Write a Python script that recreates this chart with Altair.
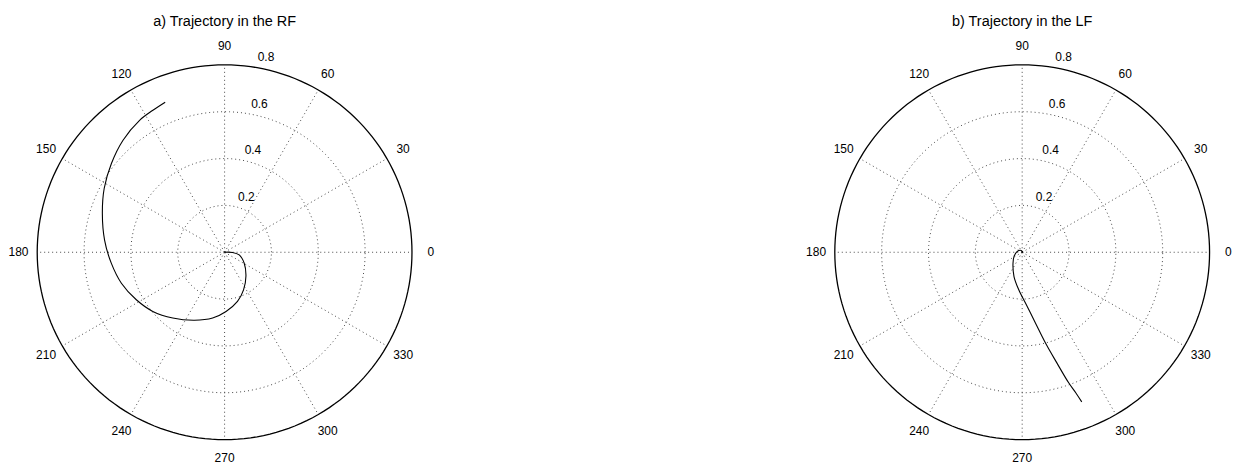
import altair as alt
import numpy as np
import pandas as pd

# ---------------- data ----------------
TITLES = ["a) Trajectory in the RF", "b) Trajectory in the LF"]

RF_THETA = [0, 358.6, 349.6, 330.8, 312.1, 296.7, 284.7, 271.4, 259.7, 246.1,
            231.8, 219.5, 208.3, 196.7, 185.5, 174.2, 162.4, 152.0, 141.9,
            132.2, 122.8, 116.8, 111.6]
RF_R = [0.0, 0.034, 0.0635, 0.096, 0.136, 0.180, 0.217, 0.253, 0.2855, 0.3176,
        0.3576, 0.397, 0.428, 0.460, 0.486, 0.515, 0.5475, 0.582, 0.614,
        0.6455, 0.670, 0.679, 0.689]

LF_THETA = [330, 119, 171, 207, 230, 251.4, 264.8, 275.3, 280.6, 284.4,
            287.4, 289.6, 290.9, 291.7]
LF_R = [0.004, 0.0088, 0.0215, 0.039, 0.061, 0.1096, 0.161, 0.2325, 0.307,
        0.400, 0.495, 0.5917, 0.643, 0.6876]

ANGLE_TICKS = [0, 30, 60, 90, 120, 150, 180, 210, 240, 270, 300, 330]
RADIUS_TICKS = [0.2, 0.4, 0.6, 0.8]
RMAX = 0.8

# ---------------- layout ----------------
PX_PER_UNIT = 235.0
W, H = 423, 448
CX, CY = 217.3, 244.3          # centre of the polar axes inside each panel (px)
SPACING = 800.2 - W
XDOM = [-CX / PX_PER_UNIT, (W - CX) / PX_PER_UNIT]
YDOM = [-(H - CY) / PX_PER_UNIT, CY / PX_PER_UNIT]
FONT = "Liberation Sans"


def pol(theta_deg, r):
    t = np.deg2rad(np.asarray(theta_deg, dtype=float))
    r = np.asarray(r, dtype=float)
    return r * np.cos(t), r * np.sin(t)


xs = alt.Scale(domain=XDOM, nice=False, zero=False)
ys = alt.Scale(domain=YDOM, nice=False, zero=False)


def enc_xy():
    return dict(x=alt.X("x:Q", scale=xs, axis=None),
                y=alt.Y("y:Q", scale=ys, axis=None))


def panel(title, theta, r):
    # grid rings
    rows = []
    for ring in RADIUS_TICKS:
        for k, a in enumerate(np.arange(0, 361, 2)):
            x, y = pol(a, ring)
            rows.append({"ring": ring, "k": k, "x": float(x), "y": float(y)})
    rings = pd.DataFrame(rows)

    dotted = alt.Chart(rings[rings.ring < RMAX]).mark_line(
        color="#333", strokeWidth=0.9, strokeDash=[1, 3]
    ).encode(**enc_xy(), detail="ring:N", order="k:Q")

    outer = alt.Chart(rings[rings.ring == RMAX]).mark_line(
        color="black", strokeWidth=1.3
    ).encode(**enc_xy(), detail="ring:N", order="k:Q")

    # spokes
    sx, sy = pol(ANGLE_TICKS, RMAX)
    spokes_df = pd.DataFrame({"x": 0.0, "y": 0.0, "x2": sx, "y2": sy})
    spokes = alt.Chart(spokes_df).mark_rule(
        color="#333", strokeWidth=0.9, strokeDash=[1, 3]
    ).encode(**enc_xy(), x2="x2:Q", y2="y2:Q")

    # angle labels
    lx, ly = pol(ANGLE_TICKS, 1.1 * RMAX)
    alab_df = pd.DataFrame({"x": lx, "y": ly, "t": [str(a) for a in ANGLE_TICKS]})
    alab = alt.Chart(alab_df).mark_text(
        font=FONT, fontSize=12, color="black", align="center", baseline="middle"
    ).encode(**enc_xy(), text="t:N")

    # radius labels
    rr = [v + 0.01 for v in RADIUS_TICKS]
    rx, ry = pol([82] * len(rr), rr)
    rlab_df = pd.DataFrame({"x": rx, "y": ry, "t": [f"{v:.1f}" for v in RADIUS_TICKS]})
    rlab = alt.Chart(rlab_df).mark_text(
        font=FONT, fontSize=12, color="black", align="left", baseline="bottom", dx=6.7
    ).encode(**enc_xy(), text="t:N")

    # trajectory
    tx, ty = pol(theta, r)
    traj_df = pd.DataFrame({"i": range(len(tx)), "x": tx, "y": ty})
    traj = alt.Chart(traj_df).mark_line(
        color="black", strokeWidth=1.1, interpolate="catmull-rom"
    ).encode(**enc_xy(), order="i:Q")

    # title
    ttl_df = pd.DataFrame({"x": [0.0], "y": [(CY - 13.7) / PX_PER_UNIT], "t": [title]})
    ttl = alt.Chart(ttl_df).mark_text(
        font=FONT, fontSize=14.5, color="black", align="center", baseline="middle"
    ).encode(**enc_xy(), text="t:N")

    return alt.layer(dotted, spokes, outer, alab, rlab, traj, ttl).properties(
        width=W, height=H
    )


chart = alt.hconcat(
    panel(TITLES[0], RF_THETA, RF_R),
    panel(TITLES[1], LF_THETA, LF_R),
    spacing=SPACING,
    bounds="flush",
).properties(padding=0, background="white").configure_view(stroke=None)

chart.save("out.html", embed_options={"renderer": "svg", "actions": False})
